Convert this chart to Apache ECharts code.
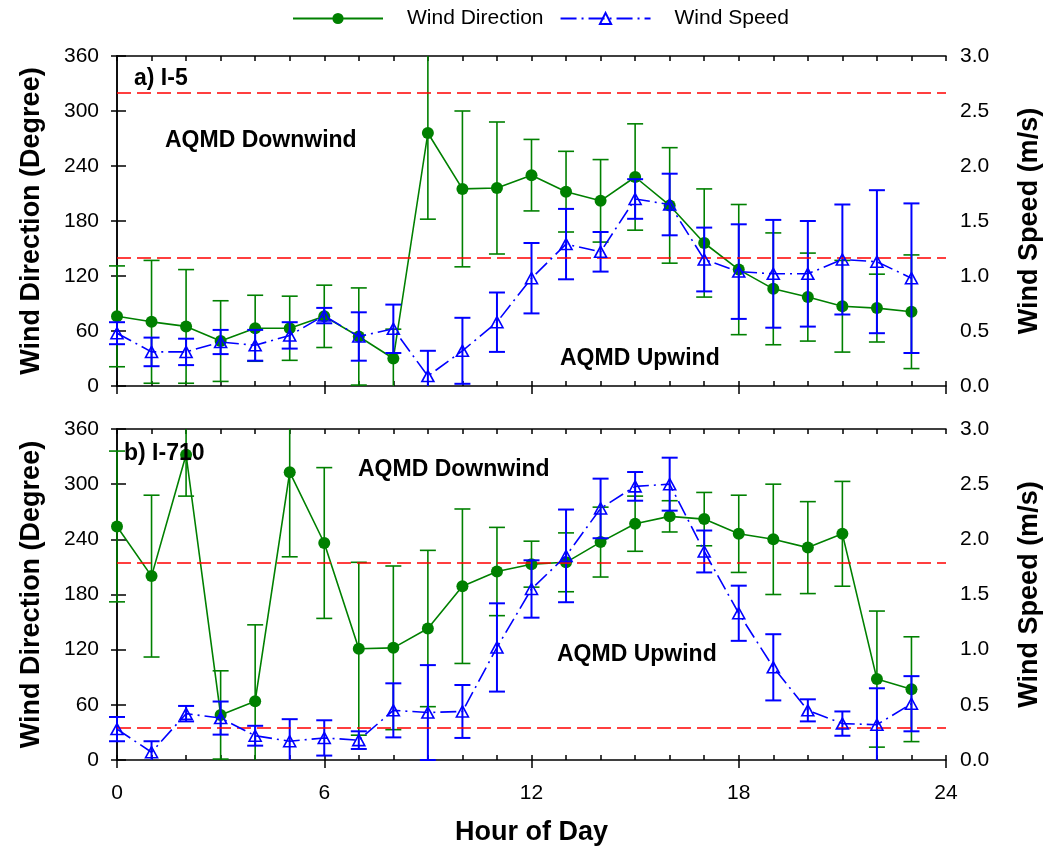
<!DOCTYPE html>
<html>
<head>
<meta charset="utf-8">
<script src="https://cdn.jsdelivr.net/npm/echarts@6/dist/echarts.min.js"></script>
<style>html,body{margin:0;padding:0;background:#fff}#c{width:1057px;height:856px}</style>
</head>
<body>
<div id="c"></div>
<script>
// ---- data ----
const hours = [0,1,2,3,4,5,6,7,8,9,10,11,12,13,14,15,16,17,18,19,20,21,22,23];
const xTicks = [0,6,12,18,24];

// Panel a) I-5
const i5Dir    = [76,70,65,49,63,63,76,54,30,276,215,216,230,212,202,228,197,156,127,106,97,87,85,81];
const i5DirErr = [55,67,62,44,36,35,34,53,32,94,85,72,39,44,45,58,63,59,71,61,48,50,37,62];
const i5Spd    = [0.48,0.31,0.31,0.40,0.37,0.46,0.64,0.45,0.52,0.09,0.32,0.58,0.98,1.29,1.22,1.70,1.65,1.15,1.04,1.02,1.02,1.15,1.13,0.98];
const i5SpdErr = [0.10,0.13,0.12,0.11,0.14,0.12,0.07,0.22,0.22,0.23,0.30,0.27,0.32,0.32,0.18,0.18,0.28,0.29,0.43,0.49,0.48,0.50,0.65,0.68];
const i5Ref    = [320,140];

// Panel b) I-710
const i710Dir    = [254,200,332,49,64,313,236,121,122,143,189,205,213,215,237,257,265,262,246,240,231,246,88,77];
const i710DirErr = [82,88,45,48,83,92,82,94,89,85,84,48,25,32,38,30,17,29,42,60,50,57,74,57];
const i710Spd    = [0.28,0.07,0.42,0.38,0.22,0.17,0.20,0.18,0.45,0.43,0.44,1.02,1.55,1.85,2.28,2.48,2.50,1.89,1.33,0.84,0.45,0.33,0.32,0.51];
const i710SpdErr = [0.11,0.10,0.07,0.15,0.09,0.20,0.16,0.08,0.245,0.43,0.24,0.40,0.26,0.42,0.27,0.13,0.24,0.19,0.25,0.30,0.10,0.11,0.33,0.25];
const i710Ref    = [215,35];

const seriesNames = ['Wind Direction','Wind Speed'];

// ---- style ----
const FONT = '"Liberation Sans", Arial, sans-serif';
const GREEN = '#008000', BLUE = '#0000ff', RED = '#ff0000';

function pairs(vals){ return hours.map((h,i)=>[h, vals[i]]); }
function triples(vals, errs){ return hours.map((h,i)=>[h, vals[i], errs[i]]); }

function errBar(yMax, color, width){
  return function(params, api){
    const x = api.value(0), v = api.value(1), e = api.value(2);
    let hi = v + e, lo = v - e;
    const capHi = hi <= yMax, capLo = lo >= 0;
    hi = Math.min(hi, yMax); lo = Math.max(lo, 0);
    const pHi = api.coord([x, hi]), pLo = api.coord([x, lo]);
    const st = {stroke: color, lineWidth: width};
    const ch = [{type:'line', shape:{x1:pHi[0],y1:pHi[1],x2:pLo[0],y2:pLo[1]}, style:st}];
    const w = 8;
    if (capHi) ch.push({type:'line', shape:{x1:pHi[0]-w,y1:pHi[1],x2:pHi[0]+w,y2:pHi[1]}, style:st});
    if (capLo) ch.push({type:'line', shape:{x1:pLo[0]-w,y1:pLo[1],x2:pLo[0]+w,y2:pLo[1]}, style:st});
    return {type:'group', children: ch};
  };
}

const axisLine = {show:true, lineStyle:{color:'#000', width:1.5}};
const tickLabel = {fontFamily: FONT, fontSize: 21, color:'#000'};
const titleStyle = {fontFamily:FONT, fontSize:27, fontWeight:'bold', color:'#000'};

function xAxesFor(grid, showLabels){
  return [
    {type:'value', gridIndex:grid, position:'bottom', min:0, max:24, interval:6,
     axisLine, axisTick:{show:true, inside:false, length:8, lineStyle:{width:1.5,color:'#000'}},
     axisLabel: showLabels ? Object.assign({margin:23, customValues: xTicks}, tickLabel) : {show:false},
     splitLine:{show:false},
     name: showLabels ? 'Hour of Day' : '', nameLocation:'middle', nameGap:59,
     nameTextStyle: titleStyle},
    {type:'value', gridIndex:grid, position:'bottom', min:0, max:24, interval:1,
     axisLine:{show:false}, axisTick:{show:true, inside:true, length:5, lineStyle:{width:1.5,color:'#000'}},
     axisLabel:{show:false}, splitLine:{show:false}},
    {type:'value', gridIndex:grid, position:'top', min:0, max:24, interval:1,
     axisLine, axisTick:{show:true, inside:true, length:5, lineStyle:{width:1.5,color:'#000'}},
     axisLabel:{show:false}, splitLine:{show:false}}
  ];
}
function yAxesFor(grid){
  return [
    {type:'value', gridIndex:grid, position:'left', min:0, max:360, interval:60,
     axisLine, axisTick:{show:true, inside:false, length:6, lineStyle:{width:1.5,color:'#000'}},
     axisLabel:Object.assign({margin:18}, tickLabel), splitLine:{show:false},
     name:'Wind Direction (Degree)', nameLocation:'middle', nameGap:72, nameTextStyle: titleStyle},
    {type:'value', gridIndex:grid, position:'right', min:0, max:3, interval:0.5,
     axisLine, axisTick:{show:true, inside:false, length:9, lineStyle:{width:1.5,color:'#000'}},
     axisLabel:Object.assign({margin:14, formatter:v=>v.toFixed(1)}, tickLabel), splitLine:{show:false},
     name:'Wind Speed (m/s)', nameLocation:'middle', nameGap:70, nameTextStyle: titleStyle}
  ];
}

function seriesFor(grid, dir, dirErr, spd, spdErr, refs){
  const xi = grid*3, yl = grid*2, yr = grid*2+1;
  return [
    {type:'custom', name:seriesNames[0]+' error', xAxisIndex:xi, yAxisIndex:yl,
     renderItem: errBar(360, GREEN, 1.6), data: triples(dir, dirErr), encode:{x:0,y:1}, silent:true, z:2},
    {type:'line', name:seriesNames[0], xAxisIndex:xi, yAxisIndex:yl, data: pairs(dir),
     symbol:'circle', symbolSize:12, itemStyle:{color:GREEN}, lineStyle:{color:GREEN, width:1.6}, z:3,
     markLine:{silent:true, symbol:'none', label:{show:false},
       lineStyle:{color:RED, type:[14,6], width:1.5}, data: refs.map(v=>({yAxis:v}))}},
    {type:'custom', name:seriesNames[1]+' error', xAxisIndex:xi, yAxisIndex:yr,
     renderItem: errBar(3, BLUE, 2), data: triples(spd, spdErr), encode:{x:0,y:1}, silent:true, z:4},
    {type:'line', name:seriesNames[1], xAxisIndex:xi, yAxisIndex:yr, data: pairs(spd),
     symbol:'triangle', symbolSize:[12,11],
     itemStyle:{color:'rgba(255,255,255,0)', borderColor:BLUE, borderWidth:1.6},
     lineStyle:{color:BLUE, width:1.6, type:[16,5,2,5]}, z:5}
  ];
}

function ann(text, x, y){
  return {type:'text', x:x, y:y, style:{text:text, font:'bold 23px '+FONT, fill:'#000', verticalAlign:'middle', align:'left'}, z:10};
}

const chart = echarts.init(document.getElementById('c'), null, {renderer:'canvas'});
chart.setOption({
  animation:false,
  backgroundColor:'#fff',
  grid:[
    {left:117, top:56, width:829, height:330},
    {left:117, top:429, width:829, height:331}
  ],
  legend:{
    left:287, top:3, itemWidth:90, itemHeight:14, itemGap:16,
    data: seriesNames,
    textStyle:{fontFamily:FONT, fontSize:21, color:'#000', padding:[0,0,0,19]}
  },
  xAxis:[...xAxesFor(0,false), ...xAxesFor(1,true)],
  yAxis:[...yAxesFor(0), ...yAxesFor(1)],
  series:[
    ...seriesFor(0, i5Dir, i5DirErr, i5Spd, i5SpdErr, i5Ref),
    ...seriesFor(1, i710Dir, i710DirErr, i710Spd, i710SpdErr, i710Ref)
  ],
  graphic:[
    ann('a) I-5', 134, 79),
    ann('AQMD Downwind', 165, 141),
    ann('AQMD Upwind', 560, 359),
    ann('b) I-710', 124, 454),
    ann('AQMD Downwind', 358, 470),
    ann('AQMD Upwind', 557, 655)
  ]
});
</script>
</body>
</html>
